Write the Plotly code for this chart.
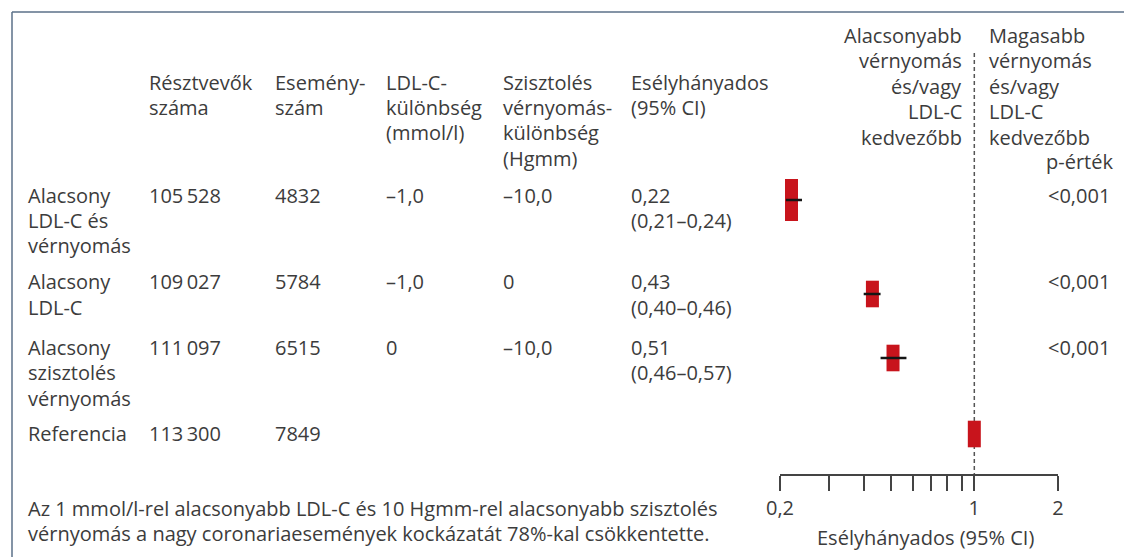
import plotly.graph_objects as go

# ---------------- data ----------------
groups = [
    ["Alacsony", "LDL-C és", "vérnyomás"],
    ["Alacsony", "LDL-C"],
    ["Alacsony", "szisztolés", "vérnyomás"],
    ["Referencia"],
]
participants = [105528, 109027, 111097, 113300]
events = [4832, 5784, 6515, 7849]
ldl_diff = [-1.0, -1.0, 0, None]
sbp_diff = [-10.0, 0, -10.0, None]
odds_ratio = [0.22, 0.43, 0.51, 1.0]
ci_low = [0.21, 0.40, 0.46, None]
ci_high = [0.24, 0.46, 0.57, None]
p_values = ["<0,001", "<0,001", "<0,001", ""]

tick_vals = [0.2, 0.3, 0.4, 0.5, 0.6, 0.7, 0.8, 0.9, 1, 2]
tick_text = ["0,2", "", "", "", "", "", "", "", "1", "2"]

col_headers = [
    ["Résztvevők", "száma"],
    ["Esemény-", "szám"],
    ["LDL-C-", "különbség", "(mmol/l)"],
    ["Szisztolés", "vérnyomás-", "különbség", "(Hgmm)"],
    ["Esélyhányados", "(95% CI)"],
]
left_header = ["Alacsonyabb", "vérnyomás", "és/vagy", "LDL-C", "kedvezőbb"]
right_header = ["Magasabb", "vérnyomás", "és/vagy", "LDL-C", "kedvezőbb"]
p_header = "p-érték"
axis_title = "Esélyhányados (95% CI)"
footnote = [
    "Az 1 mmol/l-rel alacsonyabb LDL-C és 10 Hgmm-rel alacsonyabb szisztolés",
    "vérnyomás a nagy coronariaesemények kockázatát 78%-kal csökkentette.",
]

# ---------------- layout constants (pixels) ----------------
W, H = 1124, 557
FONT = "Open Sans"
FS = 20
TXT = "#3c3c3c"
RED = "#c8141c"
LINE_GAP = 25.5
col_x = [27, 148, 274, 385, 502, 630]
row_text_y = [195, 282, 347, 433]
row_mark_y = [200, 294, 358, 434]
mark_h = [30, 19, 19, 19]
AXIS_Y = 474


def fmt_int(v):
    return f"{v:,}".replace(",", "\u2009")


def fmt_dec(v):
    if v is None:
        return ""
    if v == 0:
        return "0"
    return f"{v:.1f}".replace(".", ",").replace("-", "–")


def fmt2(v):
    return f"{v:.2f}".replace(".", ",")


annotations = []


def add_text(px, py, text, align="left", size=FS):
    annotations.append(dict(
        x=px / W, y=1 - py / H, xref="paper", yref="paper",
        text=text, showarrow=False, xanchor=align, yanchor="middle",
        font=dict(family=FONT, size=size, color=TXT), borderpad=0,
    ))


def add_lines(px, py, lines, align="left"):
    for i, ln in enumerate(lines):
        add_text(px, py + i * LINE_GAP, ln, align)


# headers
for cx, hdr in zip(col_x[1:], col_headers):
    add_lines(cx, 82, hdr)
add_lines(963, 35, left_header, "right")
add_lines(988, 35, right_header, "left")
add_text(1114, 161.5, p_header, "right")

# rows
for i in range(len(groups)):
    y0 = row_text_y[i]
    add_lines(col_x[0], y0, groups[i])
    add_text(col_x[1], y0, fmt_int(participants[i]))
    add_text(col_x[2], y0, str(events[i]))
    add_text(col_x[3], y0, fmt_dec(ldl_diff[i]))
    add_text(col_x[4], y0, fmt_dec(sbp_diff[i]))
    if ci_low[i] is not None:
        add_lines(col_x[5], y0, [fmt2(odds_ratio[i]),
                                 f"({fmt2(ci_low[i])}–{fmt2(ci_high[i])})"])
    if p_values[i]:
        add_text(1111, y0, p_values[i], "right")

add_lines(27, 508, footnote)
add_text(925, 537, axis_title, "center")

fig = go.Figure()

# reference line at OR = 1
fig.add_trace(go.Scatter(
    x=[odds_ratio[-1], odds_ratio[-1]], y=[53, AXIS_Y], mode="lines",
    line=dict(color="#555555", width=1.5, dash="4px,3px"),
    hoverinfo="skip", showlegend=False, cliponaxis=False,
))

# squares
fig.add_trace(go.Scatter(
    x=odds_ratio, y=row_mark_y, mode="markers",
    marker=dict(symbol="line-ns", size=mark_h, color=RED, opacity=1,
                line=dict(color=RED, width=13)),
    showlegend=False, cliponaxis=False,
))

# confidence intervals
cx, cy = [], []
for lo, hi, y in zip(ci_low, ci_high, row_mark_y):
    if lo is None:
        continue
    cx += [lo, hi, None]
    cy += [y, y, None]
fig.add_trace(go.Scatter(
    x=cx, y=cy, mode="lines", line=dict(color="#151515", width=2.5),
    showlegend=False, cliponaxis=False,
))

shapes = [
    dict(type="line", xref="paper", yref="paper", x0=12 / W, x1=1,
         y0=1 - 12 / H, y1=1 - 12 / H, line=dict(color="#5b7089", width=1.5)),
    dict(type="line", xref="paper", yref="paper", x0=12 / W, x1=12 / W,
         y0=1 - 12 / H, y1=0, line=dict(color="#5b7089", width=1.5)),
]

fig.update_layout(
    width=W, height=H, autosize=False,
    margin=dict(l=0, r=0, t=0, b=0, pad=0, autoexpand=False),
    paper_bgcolor="white", plot_bgcolor="white",
    xaxis=dict(
        type="log", range=[-0.69897, 0.30103],
        domain=[780 / W, 1058 / W],
        showgrid=False, zeroline=False, showline=True,
        linecolor="#444444", linewidth=1.5,
        ticks="outside", ticklen=15, tickwidth=1.5, tickcolor="#444444",
        tickvals=tick_vals, ticktext=tick_text,
        tickfont=dict(family=FONT, size=FS, color=TXT),
        fixedrange=True, automargin=False,
    ),
    yaxis=dict(
        range=[AXIS_Y, 0], domain=[(H - AXIS_Y) / H, 1],
        visible=False, fixedrange=True, automargin=False,
    ),
    annotations=annotations,
    shapes=shapes,
    showlegend=False,
)

fig.write_html(
    "out.html",
    config={"displayModeBar": False},
    post_script="document.body.style.margin='0';"
                "document.body.style.overflow='hidden';",
)
